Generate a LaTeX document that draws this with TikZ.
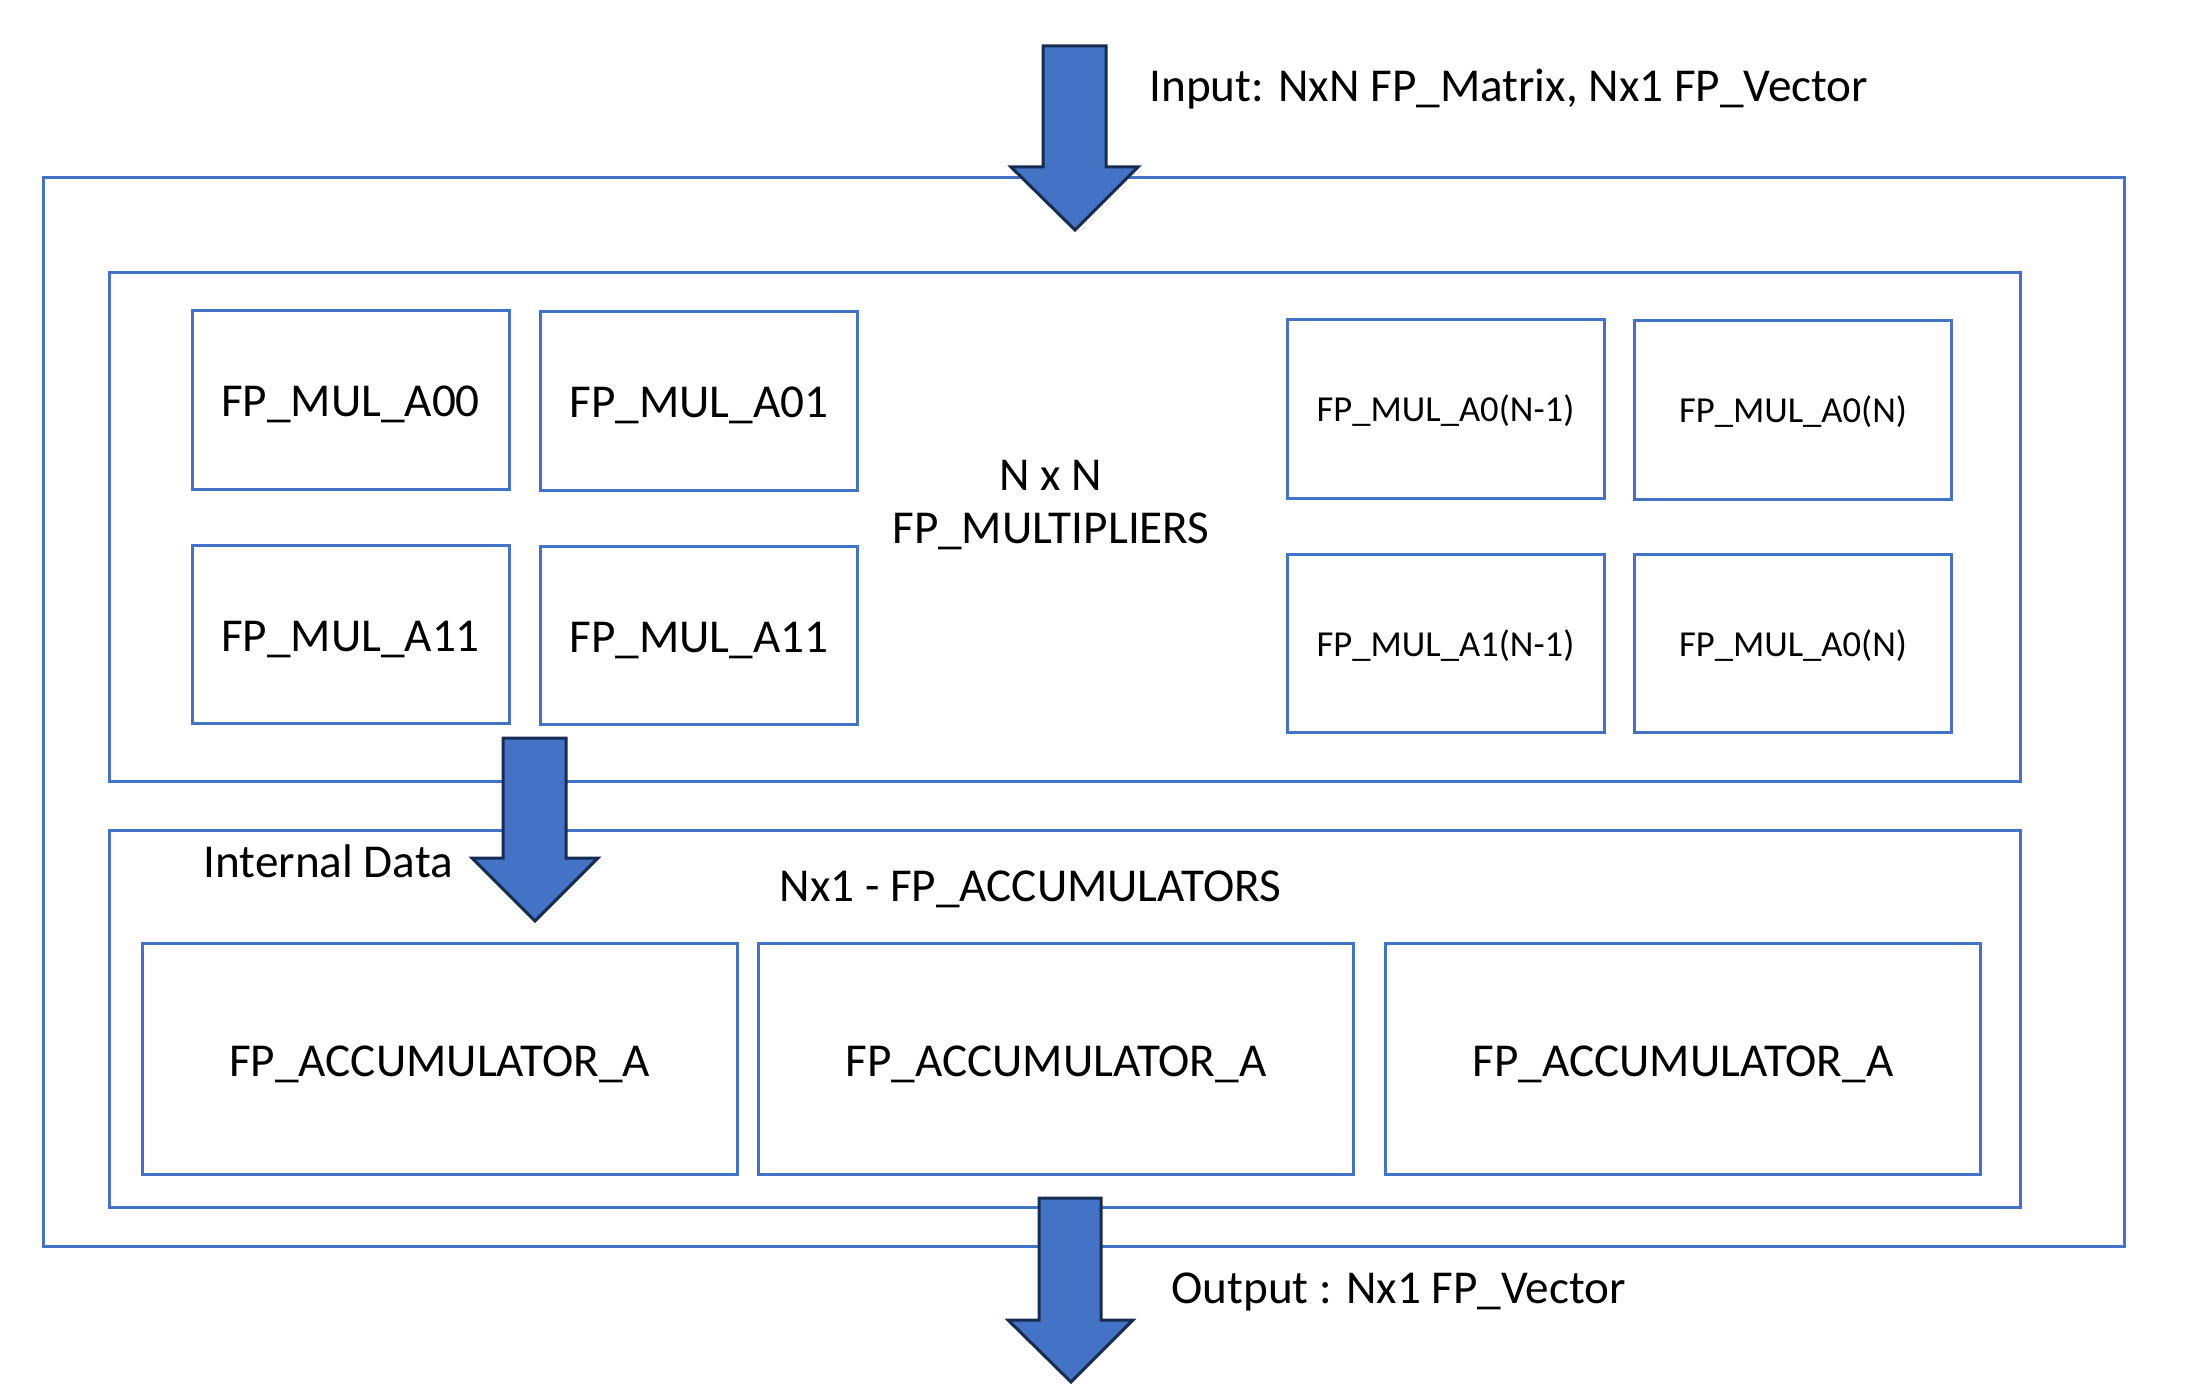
\documentclass[tikz,border=0pt]{standalone}
\usepackage{fontspec}
\setmainfont{Carlito}

\tikzset{every picture/.style={line width=1.5pt}}
\tikzset{
  blockline/.style={draw={rgb, 255:red, 68; green, 114; blue, 196 }, line width=1.5pt},
  mulbox/.style={blockline, minimum width=158.5pt, minimum height=89pt, inner sep=0pt, text height=17pt, text depth=0pt, font=\fontsize{23.6}{28}\selectfont},
  smallmul/.style={mulbox, text height=13pt, font=\fontsize{18.3}{22}\selectfont},
  accbox/.style={blockline, minimum width=297.5pt, minimum height=115.5pt, inner sep=0pt, text height=17.5pt, text depth=0pt, font=\fontsize{23.6}{28}\selectfont},
  lbl/.style={inner sep=0pt, font=\fontsize{23.6}{26.5}\selectfont},
  fatarrow/.style={draw={rgb, 255:red, 23; green, 44; blue, 81 }, fill={rgb, 255:red, 68; green, 114; blue, 196 }, line width=1.5pt, line join=miter}
}

\begin{document}
\begin{tikzpicture}[x=0.5pt,y=0.5pt,yscale=-1,xscale=1]
	\useasboundingbox (0,0) rectangle (2198,1395);

	%Shape: Rectangle [outer block]
	\draw [blockline] (43,178) rectangle (2124,1246) ;
	%Shape: Rectangle [multipliers]
	\draw [blockline] (109,273) rectangle (2020,781) ;
	%Shape: Rectangle [accumulators]
	\draw [blockline] (109,830) rectangle (2020,1207) ;

	% Multiplier blocks
	\node [mulbox] (mula00) at (350.5,400) {FP\_MUL\_A00};
	\node [mulbox] (mula01) at (699,401) {FP\_MUL\_A01};
	\node [mulbox] (mula10) at (350.5,634.5) {FP\_MUL\_A11};
	\node [mulbox] (mula11) at (699,635) {FP\_MUL\_A11};
	\node [smallmul] (mula0n1) at (1445.5,409) {FP\_MUL\_A0(N-1)};
	\node [smallmul] (mula0n) at (1793,410) {FP\_MUL\_A0(N)};
	\node [smallmul] (mula1n1) at (1445.5,643.5) {FP\_MUL\_A1(N-1)};
	\node [smallmul] (mula1n) at (1793,643.5) {FP\_MUL\_A0(N)};

	% Accumulator blocks
	\node [accbox] (acca) at (439.5,1058.5) {FP\_ACCUMULATOR\_A};
	\node [accbox] (accb) at (1056,1058.5) {FP\_ACCUMULATOR\_A};
	\node [accbox] (accc) at (1683,1058.5) {FP\_ACCUMULATOR\_A};

	%Shape: Down Arrow [input]
	\draw [fatarrow] (1043,46) -- (1106,46) -- (1106,167) -- (1138,167) -- (1075,230) -- (1011,167) -- (1043,167) -- cycle ;
	%Shape: Down Arrow [internal data]
	\draw [fatarrow] (503,738) -- (566,738) -- (566,858) -- (598,858) -- (535,921) -- (472,858) -- (503,858) -- cycle ;
	%Shape: Down Arrow [output]
	\draw [fatarrow] (1039,1198) -- (1101,1198) -- (1101,1320) -- (1133,1320) -- (1071,1382) -- (1008,1320) -- (1039,1320) -- cycle ;

	% Text Node
	\node [lbl, anchor=base west] (intext) at (1148,102) {Input: NxN FP\_Matrix, Nx1 FP\_Vector};
	% Text Node
	\node [lbl, anchor=base, align=center] (multtitle) at (1051,543) {N x N\\FP\_MULTIPLIERS};
	% Text Node
	\node [lbl, anchor=base west] (internal) at (202,877) {Internal Data};
	% Text Node
	\node [lbl, anchor=base west] (acctitle) at (778,901) {Nx1 - FP\_ACCUMULATORS};
	% Text Node
	\node [lbl, anchor=base west] (outtext) at (1170,1303) {Output : Nx1 FP\_Vector};

\end{tikzpicture}
\end{document}
